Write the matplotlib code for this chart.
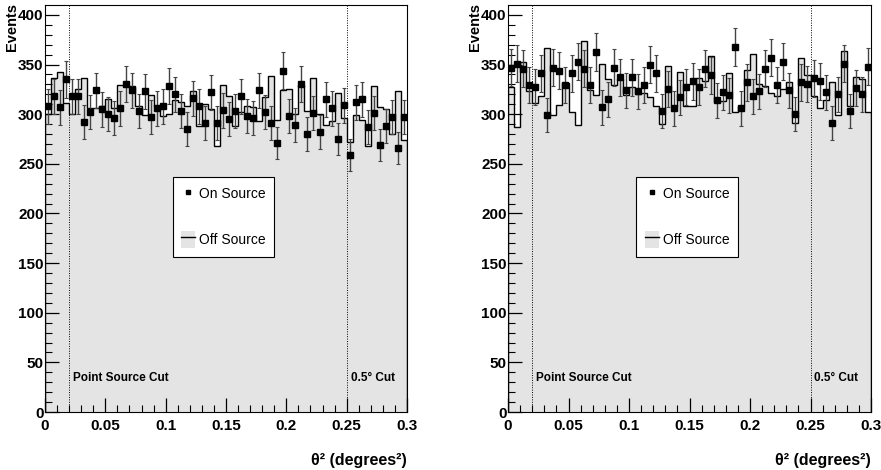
import numpy as np
import matplotlib
matplotlib.use('Agg')
import matplotlib.pyplot as plt
from matplotlib.patches import Patch
from matplotlib.lines import Line2D

plt.rcParams['font.family'] = ['Liberation Sans', 'DejaVu Sans']

# theta^2 binning: 60 bins from 0 to 0.3
edges = np.linspace(0.0, 0.3, 61)
centers = 0.5 * (edges[:-1] + edges[1:])

# left panel
on_left = [308, 318, 307, 335, 318, 318, 292, 302, 324, 305,
           300, 296, 306, 330, 324, 303, 323, 297, 306, 308,
           328, 320, 303, 285, 316, 308, 291, 322, 291, 304,
           295, 303, 318, 298, 296, 324, 302, 291, 271, 344,
           298, 289, 330, 280, 301, 282, 315, 306, 275, 309,
           259, 312, 315, 287, 301, 269, 288, 297, 266, 297]
off_left = [300, 336, 343, 311, 300, 325, 336, 306, 306, 308,
            315, 306, 329, 329, 328, 308, 299, 319, 308, 298,
            300, 314, 312, 308, 323, 288, 310, 305, 268, 329,
            318, 288, 302, 308, 307, 293, 317, 338, 294, 324,
            325, 300, 329, 303, 336, 300, 289, 293, 321, 296,
            272, 299, 294, 268, 328, 307, 305, 280, 323, 274]

# right panel
on_right = [347, 351, 346, 329, 327, 341, 299, 347, 344, 329,
            341, 353, 346, 329, 363, 307, 315, 347, 337, 324,
            337, 323, 329, 350, 341, 303, 325, 306, 317, 327,
            333, 327, 346, 339, 314, 322, 319, 368, 306, 332,
            318, 323, 346, 357, 329, 353, 324, 300, 332, 330,
            336, 333, 322, 291, 320, 351, 303, 326, 320, 348]
off_right = [327, 287, 353, 323, 311, 318, 367, 299, 309, 331,
             302, 289, 374, 324, 319, 351, 335, 329, 335, 319,
             327, 320, 321, 317, 308, 290, 349, 308, 343, 308,
             308, 336, 333, 359, 312, 313, 342, 302, 308, 345,
             361, 330, 328, 321, 318, 325, 332, 291, 357, 339,
             318, 306, 314, 332, 299, 364, 308, 337, 335, 302]

cuts = [0.02, 0.25]
cut_labels = ['Point Source Cut', '0.5\u00b0 Cut']
fill_grey = '#e4e4e4'

fig = plt.figure(figsize=(8.81, 4.70), dpi=100)
ax_l = fig.add_axes([45/881, 1-412/470, 362/881, 407/470])
ax_r = fig.add_axes([508/881, 1-412/470, 363/881, 407/470])

for ax, on, off in [(ax_l, on_left, off_left), (ax_r, on_right, off_right)]:
    on = np.array(on, dtype=float)
    off = np.array(off, dtype=float)
    ax.stairs(off, edges, fill=True, color=fill_grey, lw=0)
    ax.stairs(off, edges, color='black', lw=1.0)
    ax.errorbar(centers, on, yerr=np.sqrt(on), fmt='s', ms=4, mfc='black',
                mec='black', ecolor='#444444', elinewidth=1.0, capsize=1.5,
                capthick=0.8)
    for c, lab in zip(cuts, cut_labels):
        ax.axvline(c, ls=(0, (1, 1.5)), color='black', lw=0.7)
        ax.text(c + 0.0032, 34, lab, fontsize=8.5, fontweight='bold',
                ha='left', va='center')

    ax.set_xlim(0, 0.3)
    ax.set_ylim(0, 410)
    ax.set_xticks(np.arange(0, 0.301, 0.05))
    ax.set_xticklabels(['0', '0.05', '0.1', '0.15', '0.2', '0.25', '0.3'])
    ax.set_xticks(np.arange(0, 0.301, 0.01), minor=True)
    ax.set_yticks(np.arange(0, 401, 50))
    ax.set_yticks(np.arange(0, 401, 10), minor=True)
    ax.tick_params(which='both', direction='in', top=False, right=False,
                   labelsize=11)
    ax.tick_params(axis='x', pad=5)
    ax.tick_params(axis='y', pad=1)
    ax.tick_params(which='major', length=10, width=0.9)
    ax.tick_params(which='minor', length=5, width=0.8)
    for lab in ax.get_xticklabels() + ax.get_yticklabels():
        lab.set_fontweight('bold')
    for s in ['top', 'right']:
        ax.spines[s].set_linewidth(0.8)

    ax.text(-0.09, 1.005, 'Events', rotation=90, transform=ax.transAxes,
            fontsize=10.5, fontweight='bold', ha='center', va='top')
    ax.text(1.0, -0.10, '\u03b8\u00b2 (degrees\u00b2)', transform=ax.transAxes,
            fontsize=11.5, fontweight='bold', ha='right', va='top')

    h_on = Line2D([], [], marker='s', ls='none', ms=3.5, color='black')
    h_off = (Patch(facecolor=fill_grey, edgecolor='none'),
             Line2D([], [], color='black', lw=1.0))
    leg = ax.legend([h_on, h_off], ['On Source', 'Off Source'],
                    loc='center', bbox_to_anchor=(0.365, 0.375, 0.257, 0.21),
                    fontsize=10, frameon=True, fancybox=False,
                    edgecolor='black', framealpha=1.0, labelspacing=2.0,
                    handlelength=1.0, handleheight=1.6, handletextpad=0.3,
                    borderpad=0.6, borderaxespad=0)
    leg.get_frame().set_linewidth(0.8)

fig.savefig('out.png', dpi=100)
